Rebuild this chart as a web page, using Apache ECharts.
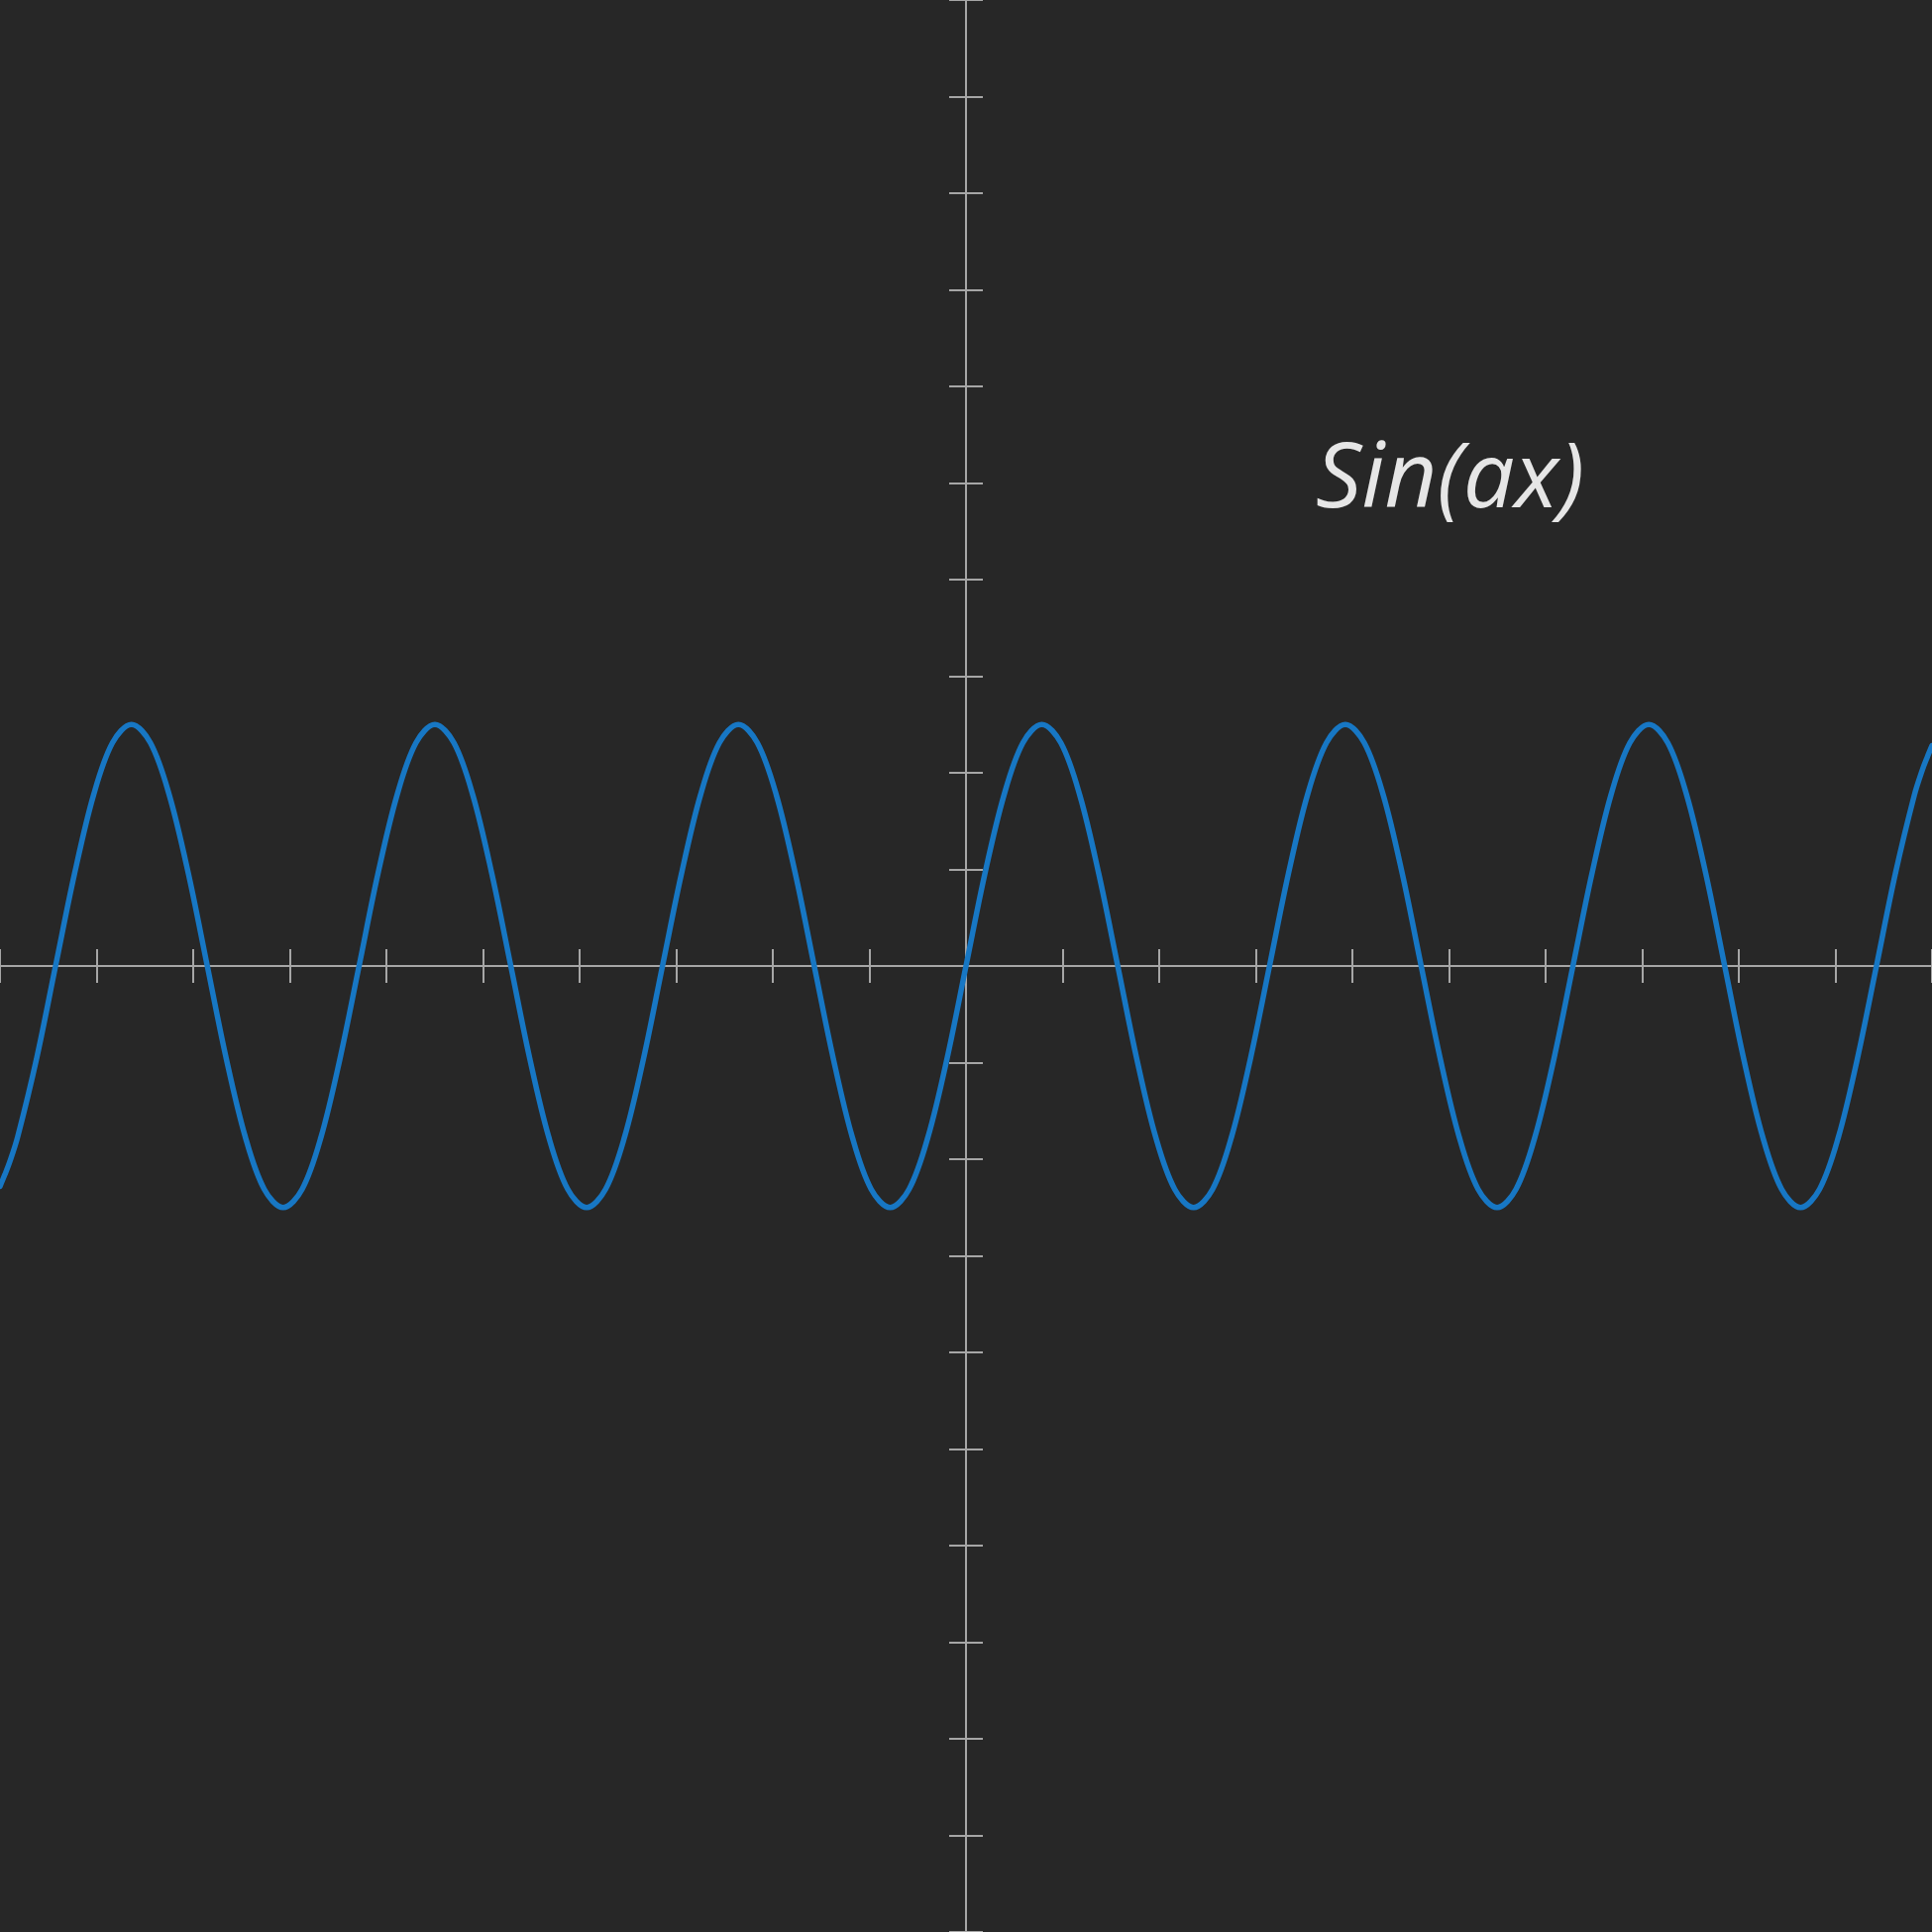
<!DOCTYPE html>
<html>
<head>
<meta charset="utf-8">
<script src="https://cdn.jsdelivr.net/npm/echarts@6/dist/echarts.min.js"></script>
<style>
html,body{margin:0;padding:0;background:#272727;}
#chart{width:1950px;height:1950px;}
</style>
</head>
<body>
<div id="chart"></div>
<script>
// sample x positions along the curve (peaks, troughs, crossings and points between)
const xValues = [
-10,-9.95,-9.9,
-9.817,-9.621,-9.425,-9.228,-9.032,-8.836,-8.639,-8.443,-8.247,-8.050,
-7.854,-7.658,-7.461,-7.265,-7.069,-6.872,-6.676,-6.480,-6.283,-6.087,
-5.890,-5.694,-5.498,-5.301,-5.105,-4.909,-4.712,-4.516,-4.320,-4.123,
-3.927,-3.731,-3.534,-3.338,-3.142,-2.945,-2.749,-2.553,-2.356,-2.160,
-1.963,-1.767,-1.571,-1.374,-1.178,-0.982,-0.785,-0.589,-0.393,-0.196,
0,
0.196,0.393,0.589,0.785,0.982,1.178,1.374,1.571,1.767,1.963,
2.160,2.356,2.553,2.749,2.945,3.142,3.338,3.534,3.731,3.927,
4.123,4.320,4.516,4.712,4.909,5.105,5.301,5.498,5.694,5.890,
6.087,6.283,6.480,6.676,6.872,7.069,7.265,7.461,7.658,7.854,
8.050,8.247,8.443,8.639,8.836,9.032,9.228,9.425,9.621,9.817,
9.9,9.95,10];
// curve heights read at those positions
const yValues = [
-2.28,-2.16,-2.03,
-1.768,-0.957,
0,0.957,1.768,2.310,2.5,2.310,1.768,0.957,0,-0.957,-1.768,-2.310,-2.5,-2.310,-1.768,-0.957,
0,0.957,1.768,2.310,2.5,2.310,1.768,0.957,0,-0.957,-1.768,-2.310,-2.5,-2.310,-1.768,-0.957,
0,0.957,1.768,2.310,2.5,2.310,1.768,0.957,0,-0.957,-1.768,-2.310,-2.5,-2.310,-1.768,-0.957,
0,0.957,1.768,2.310,2.5,2.310,1.768,0.957,0,-0.957,-1.768,-2.310,-2.5,-2.310,-1.768,-0.957,
0,0.957,1.768,2.310,2.5,2.310,1.768,0.957,0,-0.957,-1.768,-2.310,-2.5,-2.310,-1.768,-0.957,
0,0.957,1.768,2.310,2.5,2.310,1.768,0.957,0,-0.957,-1.768,-2.310,-2.5,-2.310,-1.768,-0.957,
0,0.957,1.768,
2.03,2.16,2.28];
const axisMin = -10, axisMax = 10, axisStep = 1;
const labelText = 'Sin(ax)';

const chart = echarts.init(document.getElementById('chart'), null, {renderer:'canvas'});
const axisColor = '#a6a6a6';
function mkAxis(gridIndex, inside){
  return {
    type:'value', gridIndex, min:axisMin, max:axisMax, interval:axisStep,
    axisLine:{show:true, onZero:true, lineStyle:{color:axisColor, width:2}},
    axisTick:{show:true, inside, length:17, lineStyle:{color:axisColor, width:2}},
    axisLabel:{show:false}, splitLine:{show:false}
  };
}
chart.setOption({
  backgroundColor:'#272727',
  animation:false,
  grid:[{left:0,right:0,top:0,bottom:0},{left:0,right:0,top:0,bottom:0}],
  xAxis:[mkAxis(0,true), mkAxis(1,false)],
  yAxis:[mkAxis(0,true), mkAxis(1,false)],
  series:[{
    type:'line', xAxisIndex:0, yAxisIndex:0,
    data:xValues.map((x,i)=>[x,yValues[i]]),
    smooth:0.35, showSymbol:false, symbol:'none',
    lineStyle:{color:'#1777c4', width:5.5, join:'round', cap:'round'}
  }],
  graphic:[{
    type:'text', left:1328, top:440,
    style:{text:labelText, fill:'#e6e6e6', font:'italic 92px "Open Sans"'}
  }]
});
</script>
</body>
</html>
